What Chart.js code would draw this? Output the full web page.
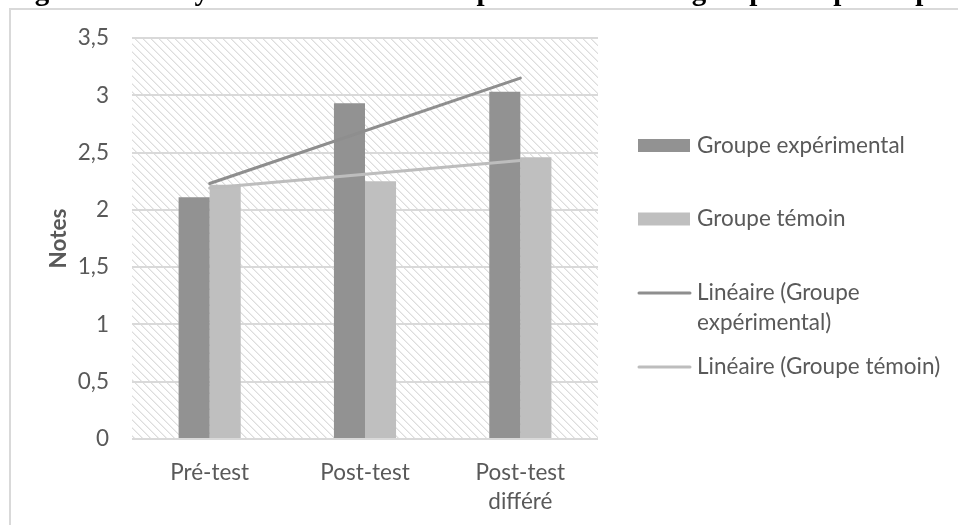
<!DOCTYPE html>
<html><head><meta charset="utf-8">
<script src="https://cdn.jsdelivr.net/npm/chart.js@4.4.1/dist/chart.umd.min.js"></script>
<style>
html,body{margin:0;padding:0;background:#fff;overflow:hidden;width:958px;height:525px;}
#titlesvg{position:absolute;left:0;top:0;width:958px;height:30px;overflow:visible;z-index:5;}
#frame{position:absolute;left:9px;top:8px;width:1000px;height:600px;border-left:2px solid #d9d9d9;border-top:2px solid #d9d9d9;}
#wrap{position:absolute;left:0;top:0;width:958px;height:525px;}
</style></head><body>
<div id="frame"></div>
<div id="wrap"><canvas id="c" width="958" height="525"></canvas></div>
<svg id="titlesvg" xmlns="http://www.w3.org/2000/svg"><text x="9" y="0" font-family="Liberation Serif, Times New Roman, serif" font-weight="bold" font-size="29" fill="#000">Figure 6 : Analyse des notes obtenues par test des deux groupes de participants</text></svg>
<script>
// ---- data ----
const categories = [["Pré-test"], ["Post-test"], ["Post-test", "différé"]];
const groupeExperimental = [2.11, 2.93, 3.03];
const groupeTemoin = [2.22, 2.25, 2.46];
const tendanceExperimental = [2.23, null, 3.15];
const tendanceTemoin = [2.19, null, 2.43];
const yTickLabels = ["0", "0,5", "1", "1,5", "2", "2,5", "3", "3,5"];
const seriesNames = ["Groupe expérimental", "Groupe témoin", "Linéaire (Groupe expérimental)", "Linéaire (Groupe témoin)"];
const legendLines = [["Groupe expérimental"], ["Groupe témoin"], ["Linéaire (Groupe", "expérimental)"], ["Linéaire (Groupe témoin)"]];
const axisTitle = "Notes";

const FONT = "Lato";
const TXT = "#595959";

function makeHatch(ctx) {
  const t = document.createElement("canvas");
  t.width = 8; t.height = 8;
  const g = t.getContext("2d");
  g.fillStyle = "#ffffff"; g.fillRect(0, 0, 8, 8);
  for (let i = 0; i < 8; i++) {
    g.fillStyle = "#dddddd"; g.fillRect(i, i, 1, 1);
    g.fillStyle = "#eeeeee"; g.fillRect((i + 1) % 8, i, 1, 1);
  }
  return ctx.createPattern(t, "repeat");
}

const bgPlugin = {
  id: "hatchBg",
  beforeDraw(chart) {
    const { ctx, chartArea: a } = chart;
    ctx.save();
    ctx.fillStyle = makeHatch(ctx);
    ctx.fillRect(a.left, a.top, a.right - a.left, a.bottom - a.top);
    ctx.restore();
  }
};

const legendPlugin = {
  id: "sideLegend",
  afterDraw(chart) {
    const ctx = chart.ctx;
    const x0 = 638, w = 52, tx = 697;
    const ys = [145.5, 219, 293, 367];
    ctx.save();
    ctx.font = "22.5px " + FONT;
    ctx.textBaseline = "middle";
    chart.data.datasets.forEach((ds, i) => {
      const y = ys[i];
      if (ds.type === "line") {
        ctx.strokeStyle = ds.borderColor;
        ctx.lineWidth = 3;
        ctx.lineCap = "round";
        ctx.beginPath(); ctx.moveTo(x0 + 1, y); ctx.lineTo(x0 + w, y); ctx.stroke();
      } else {
        ctx.fillStyle = ds.backgroundColor;
        ctx.fillRect(x0, y - 6.5, w, 13);
      }
      ctx.fillStyle = TXT;
      legendLines[i].forEach((l, j) => ctx.fillText(l, tx, y + j * 30));
    });
    ctx.restore();
  }
};

new Chart(document.getElementById("c"), {
  type: "bar",
  data: {
    labels: categories,
    datasets: [
      { type: "bar", label: seriesNames[0], data: groupeExperimental, backgroundColor: "#929292", order: 2,
        categoryPercentage: 0.4, barPercentage: 1.0 },
      { type: "bar", label: seriesNames[1], data: groupeTemoin, backgroundColor: "#bfbfbf", order: 2,
        categoryPercentage: 0.4, barPercentage: 1.0 },
      { type: "line", label: seriesNames[2], data: tendanceExperimental, borderColor: "#8e8e8e", borderWidth: 3,
        pointRadius: 0, spanGaps: true, fill: false, order: 0, borderCapStyle: "round" },
      { type: "line", label: seriesNames[3], data: tendanceTemoin, borderColor: "#bdbdbd", borderWidth: 3,
        pointRadius: 0, spanGaps: true, fill: false, order: 1, borderCapStyle: "round" }
    ]
  },
  options: {
    responsive: false,
    animation: false,
    events: [],
    layout: { padding: { left: 30, top: 38, right: 360, bottom: 0 } },
    plugins: { legend: { display: false }, tooltip: { enabled: false }, title: { display: false } },
    scales: {
      x: {
        grid: { display: false, drawTicks: false },
        border: { display: false },
        ticks: { font: { family: FONT, size: 22.5, lineHeight: 1.3 }, color: TXT, padding: 19, maxRotation: 0, autoSkip: false },
        afterFit(s) { s.height = 86; }
      },
      y: {
        min: 0, max: 3.5,
        grid: { color: "#d9d9d9", lineWidth: 2, drawTicks: false },
        border: { display: false },
        ticks: { stepSize: 0.5, padding: 23, font: { family: FONT, size: 22.5 }, color: TXT,
                 callback: (v, i) => yTickLabels[i] },
        title: { display: true, text: axisTitle, font: { family: FONT, size: 22.5, weight: "bold" }, color: TXT,
                 padding: { top: 15, bottom: 0 } },
        afterFit(s) { s.width = 102; }
      }
    }
  },
  plugins: [bgPlugin, legendPlugin]
});
</script>
</body></html>
